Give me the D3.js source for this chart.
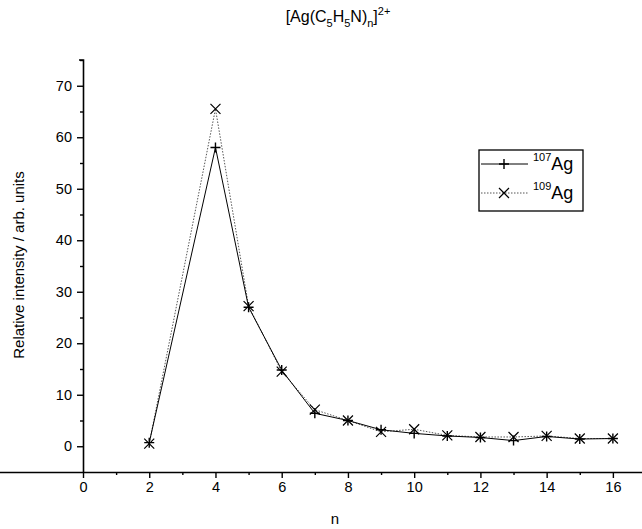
<!DOCTYPE html>
<html><head><meta charset="utf-8">
<script src="https://cdn.jsdelivr.net/npm/d3@7"></script>
<style>body{margin:0;background:#fff}svg{display:block}text,tspan{font-family:Arial,"Liberation Sans",sans-serif;fill:#000}</style>
</head><body>
<script>
const nValues = [2,4,5,6,7,8,9,10,11,12,13,14,15,16];
const ag107 = [0.7,58.0,27.0,14.8,6.4,5.0,3.2,2.5,2.0,1.7,1.1,1.9,1.4,1.5];
const ag109 = [0.5,65.5,27.2,14.5,7.1,5.0,2.8,3.3,2.1,1.8,1.8,2.0,1.5,1.5];
const xMajorTicks = [0,2,4,6,8,10,12,14,16];
const xMinorTicks = [1,3,5,7,9,11,13,15];
const yMajorTicks = [0,10,20,30,40,50,60,70];
const yMinorTicks = [5,15,25,35,45,55,65,75];

const W=642,H=529;
const svg=d3.select("body").append("svg").attr("width",W).attr("height",H);
const x=d3.scaleLinear().domain([0,17]).range([83,646]);
const y=d3.scaleLinear().domain([-5,75]).range([472,60]);

// minor ticks
const xMin=svg.append("g").attr("transform","translate(0,472)")
  .call(d3.axisBottom(x).tickValues(xMinorTicks).tickSize(3).tickFormat(""));
const yMin=svg.append("g").attr("transform","translate(83,0)")
  .call(d3.axisLeft(y).tickValues(yMinorTicks).tickSize(3).tickFormat(""));
xMin.select(".domain").remove(); yMin.select(".domain").remove();
// major axes
const xAxis=svg.append("g").attr("transform","translate(0,472)")
  .call(d3.axisBottom(x).tickValues(xMajorTicks).tickSize(6).tickPadding(4).tickFormat(d3.format("d")));
const yAxis=svg.append("g").attr("transform","translate(83,0)")
  .call(d3.axisLeft(y).tickValues(yMajorTicks).tickSize(6).tickPadding(5).tickFormat(d3.format("d")));
xAxis.select(".domain").attr("d","M0,0.5H642");
yAxis.select(".domain").attr("d","M0.5,472V60H-4");
svg.selectAll(".domain").attr("stroke","#000").attr("stroke-width",1.6);
svg.selectAll(".tick line").attr("stroke","#000").attr("stroke-width",1.4);
svg.selectAll(".tick text").style("font-size","14.5px").attr("fill","#000");

const d107=nValues.map((n,i)=>[n,ag107[i]]);
const d109=nValues.map((n,i)=>[n,ag109[i]]);
const line=d3.line().x(d=>x(d[0])).y(d=>y(d[1]));
svg.append("path").attr("d",line(d109)).attr("fill","none").attr("stroke","#555").attr("stroke-width",1).attr("stroke-dasharray","1.5,1.5");
svg.append("path").attr("d",line(d107)).attr("fill","none").attr("stroke","#000").attr("stroke-width",1);

const s=5;
function plus(g,cx,cy){g.append("path").attr("d",`M${cx-s},${cy}H${cx+s}M${cx},${cy-s}V${cy+s}`).attr("stroke","#000").attr("stroke-width",1.4);}
function cross(g,cx,cy){g.append("path").attr("d",`M${cx-s},${cy-s}L${cx+s},${cy+s}M${cx-s},${cy+s}L${cx+s},${cy-s}`).attr("stroke","#000").attr("stroke-width",1.2);}
const mk=svg.append("g");
d107.forEach(d=>plus(mk,x(d[0]),y(d[1])));
d109.forEach(d=>cross(mk,x(d[0]),y(d[1])));

// title
const t=svg.append("text").attr("x",338).attr("y",22).attr("text-anchor","middle").style("font-size","16px");
t.append("tspan").text("[Ag(C");
t.append("tspan").attr("dy",5).style("font-size","11px").text("5");
t.append("tspan").attr("dy",-5).text("H");
t.append("tspan").attr("dy",5).style("font-size","11px").text("5");
t.append("tspan").attr("dy",-5).text("N)");
t.append("tspan").attr("dy",5).style("font-size","11px").text("n");
t.append("tspan").attr("dy",-5).text("]");
t.append("tspan").attr("dy",-7).style("font-size","11px").text("2+");

// axis labels
svg.append("text").attr("x",335).attr("y",524).attr("text-anchor","middle").style("font-size","15px").text("n");
svg.append("text").attr("transform","translate(24,265) rotate(-90)").attr("text-anchor","middle").style("font-size","15px").text("Relative intensity / arb. units");

// legend
const lg=svg.append("g");
lg.append("rect").attr("x",479).attr("y",150).attr("width",104).attr("height",61).attr("fill","#fff").attr("stroke","#000").attr("stroke-width",1.3);
lg.append("line").attr("x1",481).attr("x2",528).attr("y1",164).attr("y2",164).attr("stroke","#000");
plus(lg,504,164);
lg.append("line").attr("x1",481).attr("x2",528).attr("y1",193).attr("y2",193).attr("stroke","#555").attr("stroke-dasharray","1.5,1.5");
cross(lg,504,193);
[["107",170],["109",199]].forEach(([iso,yy])=>{
  const tx=lg.append("text").attr("x",533).attr("y",yy).style("font-size","18px");
  tx.append("tspan").attr("dy",-9).style("font-size","11px").text(iso);
  tx.append("tspan").attr("dy",9).text("Ag");
});
</script>
</body></html>
